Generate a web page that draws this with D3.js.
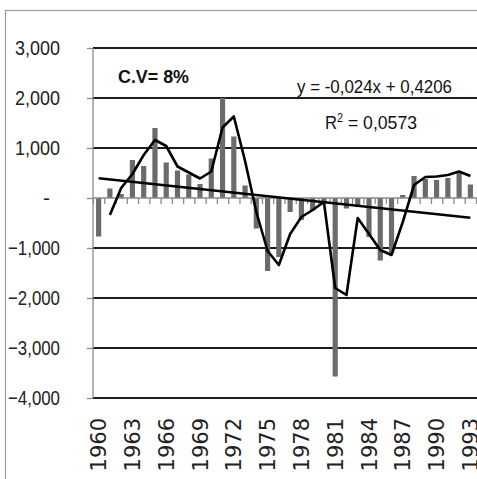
<!DOCTYPE html>
<html>
<head>
<meta charset="utf-8">
<script src="https://cdn.jsdelivr.net/npm/d3@7"></script>
<style>
  html, body { margin: 0; padding: 0; background: #fff; overflow: hidden; }
  svg { display: block; }
  .narrow { font-family: "Liberation Sans", Arial, sans-serif; }
  .wide { font-family: "DejaVu Sans", "Liberation Sans", sans-serif; }
</style>
</head>
<body>
<script>
// Annual deviations, 1960-1993
const years = d3.range(1960, 1994).map(String);
const deviations = [
  -770, 190, 80, 760, 640, 1400, 710, 550, 470, 280,
  790, 2000, 1230, 250, -610, -1460, -1180, -280, -440, -250,
  -100, -3570, -210, -180, -780, -1250, -1100, 60, 440, 380,
  360, 400, 510, 270
];
// Two-period moving average (starts in 1961)
const maYears = years.slice(1);
const movingAvg = [
  -340, 200, 480, 860, 1160, 1040, 630, 510, 390, 530,
  1410, 1630, 740, -280, -1060, -1340, -720, -380, -240, -80,
  -1800, -1940, -400, -720, -1040, -1140, -480, 260, 420, 430,
  460, 530, 440
];
// Linear trend: y = -0,024x + 0,4206 (in thousands, x = 1..34)
const trendSlope = -0.024;
const trendIntercept = 0.4206;
const yTicks = [3000, 2000, 1000, 0, -1000, -2000, -3000, -4000];
const xLabelYears = years.filter((d, i) => i % 3 === 0);
const cvText = "C.V= 8%";
const eqText = "y = -0,024x + 0,4206";

const W = 477, H = 479;
const svg = d3.select("body").append("svg").attr("width", W).attr("height", H);

// outer chart frame
svg.append("rect")
  .attr("x", 5.5).attr("y", 10.5).attr("width", W + 20).attr("height", H + 20)
  .attr("fill", "#fff").attr("stroke", "#9a9a9a").attr("stroke-width", 1.2);

const plotLeft = 93, plotRight = 476, plotTop = 48, plotBottom = 398;
const x = d3.scaleBand().domain(years).range([plotLeft, plotRight]).padding(0);
const xIdx = d3.scaleLinear().domain([0, years.length]).range([plotLeft, plotRight]);
const y = d3.scaleLinear().domain([-4000, 3000]).range([plotBottom, plotTop]);
const bw = x.bandwidth();
const barW = bw * 0.46;

// gridlines (every tick except zero)
svg.append("g").selectAll("line")
  .data(yTicks.filter(d => d !== 0))
  .join("line")
  .attr("x1", plotLeft).attr("x2", W + 5)
  .attr("y1", d => y(d)).attr("y2", d => y(d))
  .attr("stroke", "#1e1e1e").attr("stroke-width", 2.2);

// value axis with labels
const yAxis = svg.append("g")
  .attr("transform", `translate(${plotLeft},0)`)
  .call(d3.axisLeft(y).tickValues(yTicks).tickSize(6).tickPadding(27)
    .tickFormat(d => d === 0 ? "-" : d3.format(",")(d)));
yAxis.select(".domain").attr("stroke", "#8a8a8a").attr("stroke-width", 1.3)
  .attr("d", `M0,${plotTop}V${plotBottom}`);
yAxis.selectAll(".tick line").attr("stroke", "#8a8a8a").attr("stroke-width", 1.3);
yAxis.selectAll(".tick text")
  .attr("class", "narrow")
  .attr("font-size", 21)
  .attr("fill", "#222")
  .attr("dx", d => d === 0 ? -10 : 0)
  .each(function(d) {
    if (d !== 0) {
      d3.select(this)
        .attr("textLength", d < 0 ? 52 : 45)
        .attr("lengthAdjust", "spacingAndGlyphs");
    }
  });

// bars
svg.append("g").selectAll("rect")
  .data(deviations)
  .join("rect")
  .attr("x", (d, i) => x(years[i]) + (bw - barW) / 2)
  .attr("width", barW)
  .attr("y", d => y(Math.max(0, d)))
  .attr("height", d => Math.abs(y(d) - y(0)))
  .attr("fill", "#6b6b6b");

// category axis at zero with boundary ticks
const zeroAxis = svg.append("g")
  .attr("transform", `translate(0,${y(0)})`)
  .call(d3.axisBottom(xIdx).tickValues(d3.range(0, years.length + 1)).tickSize(6).tickFormat(""));
zeroAxis.select(".domain").attr("stroke", "#8a8a8a").attr("stroke-width", 1.3)
  .attr("d", `M${plotLeft},0H${W + 5}`);
zeroAxis.selectAll(".tick line").attr("stroke", "#8a8a8a").attr("stroke-width", 1.3);

// trendline
const trendX = [1, years.length];
svg.append("path")
  .datum(trendX)
  .attr("d", d3.line()
    .x(k => x(years[k - 1]) + bw / 2)
    .y(k => y((trendSlope * k + trendIntercept) * 1000)))
  .attr("fill", "none").attr("stroke", "#000").attr("stroke-width", 2.6);

// moving average
svg.append("path")
  .datum(movingAvg)
  .attr("d", d3.line()
    .x((d, i) => x(maYears[i]) + bw / 2)
    .y(d => y(d)))
  .attr("fill", "none").attr("stroke", "#000").attr("stroke-width", 2.6)
  .attr("stroke-linejoin", "round");

// year labels
const xAxis = svg.append("g")
  .attr("transform", `translate(0,${plotBottom})`)
  .call(d3.axisBottom(x).tickValues(xLabelYears).tickSize(0).tickPadding(0));
xAxis.select(".domain").remove();
xAxis.selectAll(".tick text")
  .attr("class", "wide")
  .attr("font-size", 21)
  .attr("fill", "#222")
  .attr("text-anchor", "end")
  .attr("transform", "rotate(-90)")
  .attr("x", -20)
  .attr("y", 0)
  .attr("dy", "0.36em");

// annotations
svg.append("text").attr("class", "narrow")
  .attr("x", 118).attr("y", 83)
  .attr("font-size", 18).attr("font-weight", "bold").attr("fill", "#111")
  .attr("textLength", 71).attr("lengthAdjust", "spacingAndGlyphs")
  .text(cvText);
svg.append("text").attr("class", "narrow")
  .attr("x", 297).attr("y", 93)
  .attr("font-size", 19).attr("fill", "#111")
  .attr("textLength", 155).attr("lengthAdjust", "spacingAndGlyphs")
  .text(eqText);
const r2 = svg.append("text").attr("class", "narrow")
  .attr("x", 325).attr("y", 129)
  .attr("font-size", 19).attr("fill", "#111");
r2.append("tspan").attr("textLength", 12).attr("lengthAdjust", "spacingAndGlyphs").text("R");
r2.append("tspan").attr("font-size", 12).attr("dy", -7)
  .attr("textLength", 6).attr("lengthAdjust", "spacingAndGlyphs").text("2");
r2.append("tspan").attr("dy", 7)
  .attr("textLength", 74).attr("lengthAdjust", "spacingAndGlyphs").text(" = 0,0573");
</script>
</body>
</html>
